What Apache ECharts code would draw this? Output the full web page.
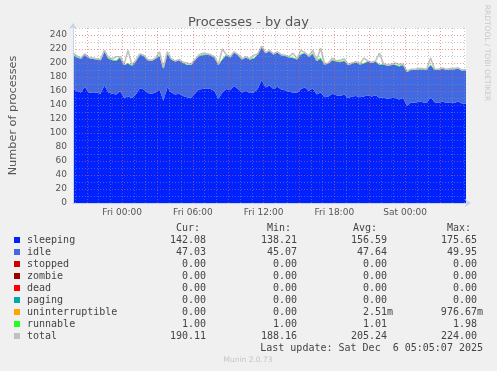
<!DOCTYPE html>
<html><head><meta charset="utf-8">
<script src="https://cdn.jsdelivr.net/npm/echarts@6/dist/echarts.min.js"></script>
<style>html,body{margin:0;padding:0;background:#f0f0f0}#c{width:497px;height:371px}</style>
</head><body><div id="c"></div>
<script>
// time in 5-minute slots counted from Thu 00:00
const slotStart = 238;   // Thu 19:50
const slotEnd = 638;     // Sat 05:10
const catStep = 2;       // one category every 10 minutes
const sampleEvery = 2;   // one sample every 2 categories (20 minutes)

const sleeping = [163,160,158,166,158,157,158,156,168,158,
  156,155,160,150,152,150,155,164,162,157,
  156,158,162,146,165,158,155,156,153,151,
  150,156,162,163,164,163,160,149,158,163,
  161,167,163,158,160,157,158,163,175.6,165,
  168,163,166,162,161,159,158,157,163,165,
  160,164,155,158,151,152,156,154,153,155,
  150,152,153,151,152,154,152,154,150,151,
  149,150,150,148,150,139,144,143,145,144,
  143,151,144,143,145,143,144,143,145,142,142.08];
const idle = [48,48,48,46,49,49,47,48,49,48,
  48,48,48,47,47,46,47,48,48,47,
  47,48,48,46,48,47,47,48,47,46,
  47,48,48,48,48,48,48,48,47,48,
  47,48,48,47,48,48,48,49,47.4,49,
  49,49,49,49,49,49,49,48,49,49,
  49,49,48,48,47,47,48,48,48,48,
  47,47,48,47,47,48,48,48,47,47,
  47,47,47,47,47,48,46,47,46,47,
  47,46,46,47,47,47,47,48,47,47,47.03];
const runnable = [1,1,1,1,1,1,1,1,1,1,
  1,1,1,1,1,1,1,1,1,1,
  1,1,1,1,1,1,1,1,1,1,
  1,1,1,1,1,1,1,1,1,1,
  1,1,1,1,1,1,1,1,1,1,
  1,1,1,1,1,1,1,1,1,1,
  1,1,1,1.9,1,1,1,1,1,1,
  1,1,1,1,1,1,1,1,1,1,
  1,1,1,1,1,1,1,1,1,1,
  1,1,1,1,1,1,1,1,1,1,1];
const total = [214,210,207,213,208,207,206,205,218,208,
  206,209,209,198,218,197,204,213,211,205,
  204,207,216,193,216,206,203,205,201,200,
  198,205,211,214,213,212,209,198,220,212,
  209,216,212,206,209,206,211,213,224,215,
  218,213,216,212,211,209,214,206,218,215,
  210,218,204,221,199,200,207,203,204,206,
  198,200,202,199,207,203,201,203,214,199,
  197,198,200,198,198,188.2,191,191,192,192,
  191,207,191,191,193,191,192,192,193,190,190.11];

const xTickSlots = [288,360,432,504,576];
const xTickLabels = ['Fri 00:00','Fri 06:00','Fri 12:00','Fri 18:00','Sat 00:00'];
const yTickLabels = [0,20,40,60,80,100,120,140,160,180,200,220,240];

const legendNames = ['sleeping','idle','stopped','zombie','dead','paging','uninterruptible','runnable','total'];
const legendColors = ['#0022ff','#4169e1','#cc0000','#990000','#ff0000','#00aaaa','#ffa500','#22ff22','#c0c0c0'];
const curVals = ['142.08','47.03','0.00','0.00','0.00','0.00','0.00','1.00','190.11'];
const minVals = ['138.21','45.07','0.00','0.00','0.00','0.00','0.00','1.00','188.16'];
const avgVals = ['156.59','47.64','0.00','0.00','0.00','0.00','2.51m','1.01','205.24'];
const maxVals = ['175.65','49.95','0.00','0.00','0.00','0.00','976.67m','1.98','224.00'];
const headers = ['Cur:','Min:','Avg:','Max:'];

const xCats = [];
for (let s = slotStart; s <= slotEnd; s += catStep) xCats.push(s);
function pairs(arr){ return arr.map((v,i)=>[i*sampleEvery, v]); }

const RED = 'rgba(225,90,90,0.6)';
const GREY = 'rgba(150,150,150,0.5)';

const mono = '"DejaVu Sans Mono", monospace';
const sans = '"DejaVu Sans", sans-serif';
const txtCol = '#444';

const graphic = [];
const rowY0 = 240, rowH = 12;
const colRight = [206, 297, 387, 477];
const headerX = [176, 267, 353, 447];
headers.forEach((h,i)=>graphic.push({type:'text', x:headerX[i], y:228, style:{text:h, font:'10px '+mono, fill:txtCol, align:'left', verticalAlign:'middle'}}));
legendNames.forEach((n,i)=>{
  const y = rowY0 + i*rowH;
  graphic.push({type:'rect', shape:{x:14, y:y-3, width:6, height:6}, style:{fill:legendColors[i]}});
  graphic.push({type:'text', x:27, y:y, style:{text:n, font:'10px '+mono, fill:txtCol, align:'left', verticalAlign:'middle'}});
  [curVals, minVals, avgVals, maxVals].forEach((col,j)=>{
    const s = col[i];
    const xr = colRight[j] + (s.endsWith('m') ? 6 : 0);
    graphic.push({type:'text', x:xr, y:y, style:{text:s, font:'10px '+mono, fill:txtCol, align:'right', verticalAlign:'middle'}});
  });
});
graphic.push({type:'text', x:483, y:348, style:{text:'Last update: Sat Dec  6 05:05:07 2025', font:'10px '+mono, fill:txtCol, align:'right', verticalAlign:'middle'}});
graphic.push({type:'text', x:248, y:360, style:{text:'Munin 2.0.73', font:'7.5px '+sans, fill:'#c4c4c4', align:'center', verticalAlign:'middle'}});
graphic.push({type:'text', x:487, y:53, rotation:-Math.PI/2, style:{text:'RRDTOOL / TOBI OETIKER', font:'7.5px '+sans, fill:'#c8c8c8', align:'center', verticalAlign:'middle'}});

const isHour = (v)=> (Number(v) % 12) === 0;
const is3Hour = (v)=> (Number(v) % 36) === 0;

const chart = echarts.init(document.getElementById('c'), null, {renderer:'canvas'});
chart.setOption({
  animation:false,
  backgroundColor:'#f0f0f0',
  title:{text:'Processes - by day', left:'center', top:11, textStyle:{fontFamily:sans, fontSize:13, fontWeight:'normal', color:'#555'}},
  grid:{left:67, right:31, top:28, bottom:168, show:true, backgroundColor:'#ffffff', borderWidth:0},
  xAxis:[{type:'category', data:xCats, boundaryGap:false, position:'bottom', z:5,
    axisLine:{show:true, lineStyle:{color:'#c8d2ee', width:1}, symbol:['none','arrow'], symbolSize:[6,6], symbolOffset:[0,5]},
    axisTick:{show:false},
    axisLabel:{margin:5, fontFamily:sans, fontSize:9, color:'#555',
      interval:(i,v)=> xTickSlots.indexOf(Number(v))>=0,
      formatter:v=>{const i = xTickSlots.indexOf(Number(v)); return i>=0 ? xTickLabels[i] : '';}},
    splitLine:{show:true, interval:(i,v)=> isHour(v) && !is3Hour(v), lineStyle:{color:GREY, width:1, type:[1,2]}}
  },{type:'category', data:xCats, boundaryGap:false, position:'top', z:5,
    axisLine:{show:false}, axisTick:{show:false}, axisLabel:{show:false},
    splitLine:{show:true, interval:(i,v)=> is3Hour(v), lineStyle:{color:RED, width:1, type:[1,2]}}
  }],
  yAxis:{type:'value', min:0, max:250, interval:10, z:5,
    name:'Number of processes', nameLocation:'middle', nameGap:54,
    nameTextStyle:{fontFamily:sans, fontSize:11.3, color:'#555'},
    axisLine:{show:true, lineStyle:{color:'#c8d2ee', width:1}, symbol:['none','arrow'], symbolSize:[6,6], symbolOffset:[0,5]},
    axisTick:{show:false},
    axisLabel:{margin:6, fontFamily:sans, fontSize:9, color:'#555',
      formatter:v=> yTickLabels.indexOf(v)>=0 ? String(v) : ''},
    splitLine:{show:true, lineStyle:{color:[RED, GREY], width:1, type:[1,2]}}
  },
  series:[
    {name:'sleeping', type:'line', stack:'p', data:pairs(sleeping), showSymbol:false, lineStyle:{width:0}, areaStyle:{color:'#0022ff', opacity:1}, z:2},
    {name:'idle', type:'line', stack:'p', data:pairs(idle), showSymbol:false, lineStyle:{width:0}, areaStyle:{color:'#4169e1', opacity:1}, z:2},
    {name:'runnable', type:'line', stack:'p', data:pairs(runnable), showSymbol:false, lineStyle:{width:0}, areaStyle:{color:'#22ff22', opacity:1}, z:2},
    {name:'total', type:'line', data:pairs(total), showSymbol:false, lineStyle:{width:1.6, color:'#c0c0c0'}, z:3}
  ],
  graphic:graphic
});
</script></body></html>
